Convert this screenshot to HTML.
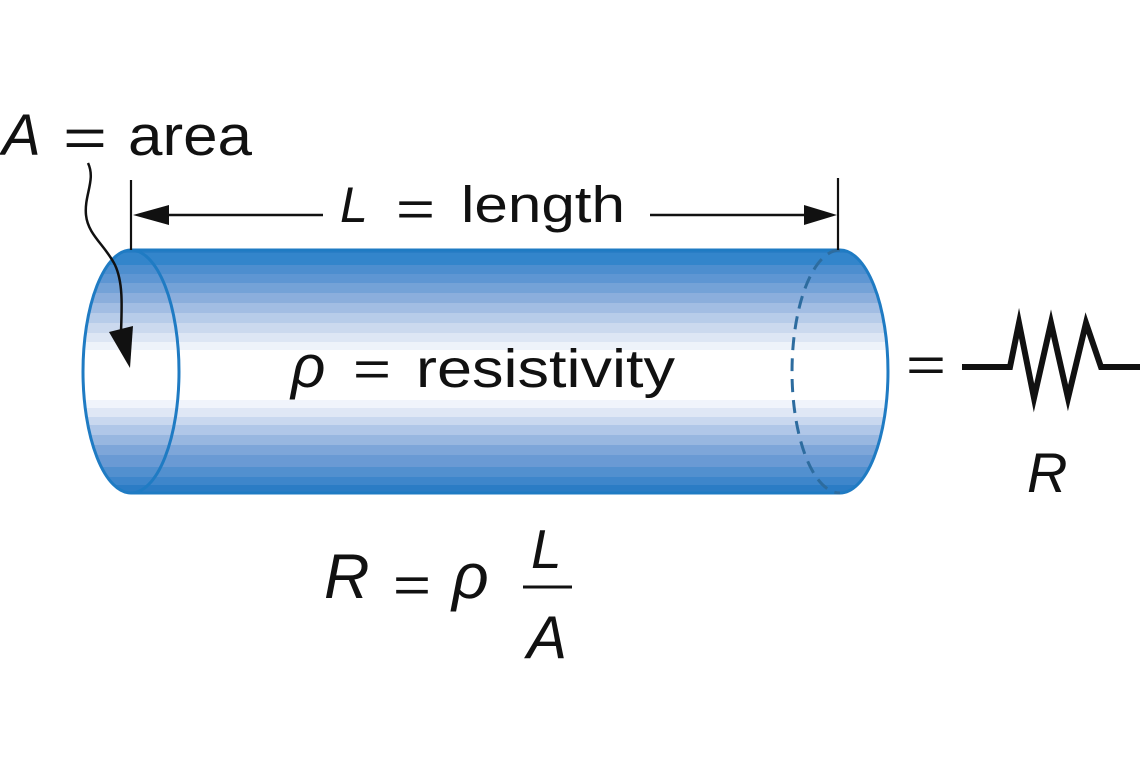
<!DOCTYPE html>
<html><head><meta charset="utf-8"><style>
html,body{margin:0;padding:0;background:#fff;}
svg{display:block;}
text{font-family:"Liberation Sans","DejaVu Sans",sans-serif;fill:#111;}
.i{font-style:italic;}
</style></head><body>
<svg width="1140" height="760" viewBox="0 0 1140 760" xmlns="http://www.w3.org/2000/svg">
<defs>
<clipPath id="cyl">
<path d="M131,250 L840,250 A48,121.5 0 0 1 840,493 L131,493 A48,121.5 0 0 1 131,250 Z"/>
</clipPath>
</defs>
<rect width="1140" height="760" fill="#fff"/>
<g clip-path="url(#cyl)">
<rect x="80" y="248" width="820" height="5" fill="#2a7ec6"/>
<rect x="80" y="253" width="820" height="12" fill="#3385cb"/>
<rect x="80" y="265" width="820" height="9" fill="#4d8ecf"/>
<rect x="80" y="274" width="820" height="9" fill="#5e96d3"/>
<rect x="80" y="283" width="820" height="10" fill="#74a2d7"/>
<rect x="80" y="293" width="820" height="10" fill="#8baedc"/>
<rect x="80" y="303" width="820" height="10" fill="#a2bde3"/>
<rect x="80" y="313" width="820" height="10" fill="#b7cce9"/>
<rect x="80" y="323" width="820" height="10" fill="#cbd9ee"/>
<rect x="80" y="333" width="820" height="9" fill="#dde6f4"/>
<rect x="80" y="342" width="820" height="8" fill="#eef3fa"/>
<rect x="80" y="350" width="820" height="50" fill="#ffffff"/>
<rect x="80" y="400" width="820" height="8" fill="#f0f4fb"/>
<rect x="80" y="408" width="820" height="9" fill="#dfe7f5"/>
<rect x="80" y="417" width="820" height="8" fill="#c9d8ef"/>
<rect x="80" y="425" width="820" height="10" fill="#b0c7e8"/>
<rect x="80" y="435" width="820" height="10" fill="#98b7e0"/>
<rect x="80" y="445" width="820" height="10" fill="#7ea6d9"/>
<rect x="80" y="455" width="820" height="12" fill="#6a9ad4"/>
<rect x="80" y="467" width="820" height="10" fill="#5290cf"/>
<rect x="80" y="477" width="820" height="8" fill="#3e86cb"/>
<rect x="80" y="485" width="820" height="10" fill="#2b7cc5"/>
</g>
<!-- outline -->
<path d="M131,250 L840,250 A48,121.5 0 0 1 840,493 L131,493" fill="none" stroke="#1f7bc3" stroke-width="3"/>
<ellipse cx="131" cy="371.5" rx="48" ry="121.5" fill="none" stroke="#1f7bc3" stroke-width="3"/>
<path d="M840,250 A48,121.5 0 0 0 840,493" fill="none" stroke="#2d6c9f" stroke-width="3" stroke-dasharray="13 8"/>

<!-- dimension line -->
<line x1="131" y1="180" x2="131" y2="250" stroke="#111" stroke-width="2.2"/>
<line x1="838" y1="178" x2="838" y2="250" stroke="#111" stroke-width="2.2"/>
<line x1="165" y1="215" x2="323" y2="215" stroke="#111" stroke-width="2.5"/>
<polygon points="133,215 169,205 169,225" fill="#111"/>
<line x1="650" y1="215" x2="808" y2="215" stroke="#111" stroke-width="2.5"/>
<polygon points="837,215 804,205 804,225" fill="#111"/>

<!-- curved arrow from A -->
<path d="M88,163 C96,180 84,195 86,215 C88,235 105,245 115,265 C123,282 122,305 121,332" fill="none" stroke="#111" stroke-width="2.5"/>
<polygon points="109,332 133,326 130,368" fill="#111"/>

<!-- A = area -->
<text class="i" x="2" y="155" font-size="58">A</text>
<text x="63" y="156" font-size="54" textLength="44" lengthAdjust="spacingAndGlyphs">=</text>
<text x="128" y="155" font-size="57" textLength="124" lengthAdjust="spacingAndGlyphs">area</text>

<!-- L = length -->
<text class="i" x="340" y="222" font-size="50">L</text>
<text x="396" y="226" font-size="50" textLength="39" lengthAdjust="spacingAndGlyphs">=</text>
<text x="461" y="222" font-size="51" textLength="164" lengthAdjust="spacingAndGlyphs">length</text>

<!-- rho = resistivity -->
<text class="i" x="291" y="387" font-size="60">ρ</text>
<text x="353" y="386" font-size="50" textLength="38" lengthAdjust="spacingAndGlyphs">=</text>
<text x="416" y="387" font-size="54" textLength="259" lengthAdjust="spacingAndGlyphs">resistivity</text>

<!-- resistor -->
<text x="906" y="381" font-size="48" textLength="40" lengthAdjust="spacingAndGlyphs">=</text>
<polyline points="962,367 1010,367 1019,323 1034,398 1051,323 1068,398 1086,323 1101,367 1140,367" fill="none" stroke="#111" stroke-width="6" stroke-linejoin="miter" stroke-miterlimit="10"/>
<text class="i" x="1027" y="492" font-size="56">R</text>

<!-- formula -->
<text class="i" x="324" y="598" font-size="63">R</text>
<text x="393" y="602" font-size="50" textLength="38" lengthAdjust="spacingAndGlyphs">=</text>
<text class="i" x="452" y="598" font-size="64">ρ</text>
<line x1="523" y1="587" x2="572" y2="587" stroke="#111" stroke-width="3"/>
<text class="i" x="531" y="568" font-size="55">L</text>
<text class="i" x="527" y="658" font-size="60">A</text>
</svg>
</body></html>
